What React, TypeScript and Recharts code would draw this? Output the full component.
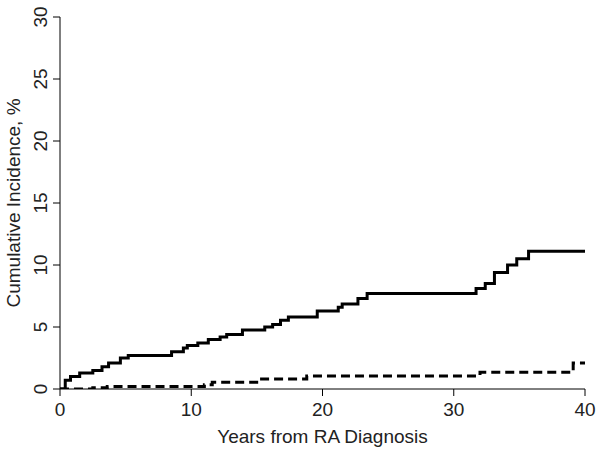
import { LineChart, Line, XAxis, YAxis } from 'recharts';

// years from diagnosis and cumulative incidence (%) at each step
const solidYears = [0, 0.4, 0.8, 1.5, 2.5, 3.2, 3.7, 4.6, 5.2, 8.5, 9.4, 9.7, 10.5, 11.3, 12.2, 12.7, 13.9, 15.6, 16.2, 16.8, 17.4, 19.6, 21.2, 21.5, 22.7, 23.4, 31.7, 32.4, 33.1, 34.1, 34.8, 35.7, 40];
const solidValues = [0, 0.7, 1.0, 1.3, 1.5, 1.8, 2.1, 2.5, 2.7, 3.0, 3.3, 3.5, 3.7, 4.0, 4.2, 4.4, 4.75, 5.0, 5.2, 5.55, 5.8, 6.3, 6.6, 6.85, 7.3, 7.7, 8.1, 8.5, 9.4, 10.0, 10.5, 11.1, 11.1];

const dashedYears = [0, 2.5, 3.6, 11.0, 11.6, 15.1, 18.8, 32.0, 39.1, 40];
const dashedValues = [0, 0.1, 0.2, 0.35, 0.55, 0.8, 1.05, 1.35, 2.1, 2.1];

const xTicks = [0, 10, 20, 30, 40];
const yTicks = [0, 5, 10, 15, 20, 25, 30];

const solidData = solidYears.map((x, i) => ({ x, y: solidValues[i] }));
const dashedData = dashedYears.map((x, i) => ({ x, y: dashedValues[i] }));

const font = 'Liberation Sans, Arial, sans-serif';
const fs = 19;

const YTick = (props: any) => {
  const { x, y, payload } = props;
  const tx = x - 4;
  return (
    <text x={tx} y={y} transform={`rotate(-90, ${tx}, ${y})`} textAnchor="middle" fill="#222" fontSize={fs} fontFamily={font}>
      {payload.value}
    </text>
  );
};

export default function App() {
  return (
    <div style={{ position: 'absolute', left: 0, top: 0, background: '#fff' }}>
      <LineChart width={601} height={451} margin={{ top: 17, right: 16, left: 0, bottom: 0 }}>
        <XAxis
          type="number"
          dataKey="x"
          domain={[0, 40]}
          ticks={xTicks}
          tickSize={7}
          tickMargin={7}
          stroke="#000"
          tick={{ fill: '#222', fontSize: fs, fontFamily: font }}
          height={62}
          label={{ value: 'Years from RA Diagnosis', position: 'insideBottom', offset: 8, fill: '#222', fontSize: fs, fontFamily: font }}
          allowDataOverflow
        />
        <YAxis
          type="number"
          dataKey="y"
          domain={[0, 30]}
          ticks={yTicks}
          tickSize={7}
          stroke="#000"
          tick={<YTick />}
          width={60}
          label={{ value: 'Cumulative Incidence, %', angle: -90, position: 'insideLeft', offset: 13, fill: '#222', fontSize: fs, fontFamily: font, style: { textAnchor: 'middle' } }}
          allowDataOverflow
        />
        <Line data={solidData} dataKey="y" type="stepAfter" stroke="#000" strokeWidth={3} dot={false} isAnimationActive={false} />
        <Line data={dashedData} dataKey="y" type="stepAfter" stroke="#000" strokeWidth={3} strokeDasharray="9 5" dot={false} isAnimationActive={false} />
      </LineChart>
    </div>
  );
}
